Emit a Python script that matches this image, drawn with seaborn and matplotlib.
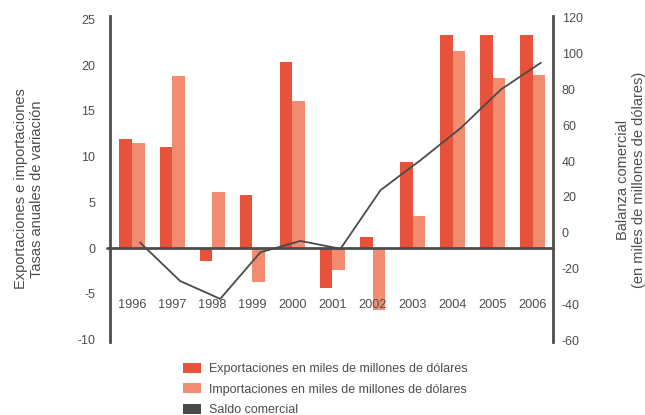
import numpy as np
import pandas as pd
import matplotlib
matplotlib.use("Agg")
import matplotlib.pyplot as plt
from matplotlib.patches import Patch
import seaborn as sns

# Annual data
years = ["1996", "1997", "1998", "1999", "2000", "2001", "2002", "2003", "2004", "2005", "2006"]
exportaciones = [11.9, 11.1, -1.4, 5.8, 20.3, -4.4, 1.2, 9.4, 23.3, 23.3, 23.3]
importaciones = [11.5, 18.8, 6.1, -3.7, 16.1, -2.4, -6.8, 3.5, 21.5, 18.6, 18.9]
saldo = [-5.5, -27.0, -37.0, -11.0, -4.6, -9.0, 23.8, 40.6, 58.5, 80.0, 95.0]

lbl_exp = "Exportaciones en miles de millones de dólares"
lbl_imp = "Importaciones en miles de millones de dólares"
lbl_saldo = "Saldo comercial"

c_exp = "#E8513A"
c_imp = "#F28C70"
c_line = "#4a4a4a"
c_axis = "#4d4d4d"
c_text = "#4d4d4d"

sns.set_theme(style="white")
plt.rcParams["font.family"] = ["Liberation Sans", "DejaVu Sans"]
plt.rcParams["axes.unicode_minus"] = False
plt.rcParams["text.color"] = c_text
plt.rcParams["axes.labelcolor"] = c_text
plt.rcParams["xtick.color"] = c_text
plt.rcParams["ytick.color"] = c_text

df = pd.DataFrame({
    "year": years * 2,
    "value": exportaciones + importaciones,
    "serie": [lbl_exp] * len(years) + [lbl_imp] * len(years),
})

fig = plt.figure(figsize=(6.45, 4.15), dpi=100)
ax = fig.add_axes([0.1705, 0.1759, 0.6868, 0.7855])

sns.barplot(data=df, x="year", y="value", hue="serie", order=years,
            hue_order=[lbl_exp, lbl_imp], palette=[c_exp, c_imp],
            width=0.625, saturation=1, linewidth=0, legend=False, ax=ax)

ax.set_xlim(-0.55, 10.5)
ax.set_ylim(-10.25, 25.35)
ax.set_xticks([])
ax.set_yticks([-10, -5, 0, 5, 10, 15, 20, 25])
ax.tick_params(axis="y", length=0, pad=10.5, labelsize=9)
ax.set_xlabel("")
ax.set_ylabel("")
for s in ["top", "bottom", "right"]:
    ax.spines[s].set_visible(False)
ax.spines["left"].set_color(c_axis)
ax.spines["left"].set_linewidth(2.0)

# zero baseline
ax.axhline(0, xmin=-0.007, xmax=1.0, color=c_axis, lw=2.0, clip_on=False, zorder=3)

# year labels inside the plot area
for i, y in enumerate(years):
    ax.text(i, -6.22, y, ha="center", va="center", fontsize=9.2, color=c_text)

# trade balance on the secondary axis
ax2 = ax.twinx()
xpos = np.arange(len(years)) + 0.2
sns.lineplot(x=xpos, y=saldo, color=c_line, lw=1.3, ax=ax2)
ax2.set_ylim(-61.1, 121.1)
ax2.set_yticks([-60, -40, -20, 0, 20, 40, 60, 80, 100, 120])
ax2.tick_params(axis="y", length=0, pad=6.5, labelsize=9)
ax2.set_xlim(-0.55, 10.5)
ax2.set_xticks([])
ax2.set_ylabel("")
for s in ["top", "bottom", "left"]:
    ax2.spines[s].set_visible(False)
ax2.spines["right"].set_color(c_axis)
ax2.spines["right"].set_linewidth(2.0)

# axis titles
fig.text(29 / 645, 1 - 189 / 415, "Exportaciones e importaciones\nTasas anuales de variación",
         rotation=90, ha="center", va="center", fontsize=10.5, color=c_text, linespacing=1.1)
fig.text(631 / 645, 1 - 180 / 415, "Balanza comercial\n(en miles de millones de dólares)",
         rotation=90, ha="center", va="center", fontsize=10.5, color=c_text, linespacing=1.1)

handles = [Patch(facecolor=c_exp, edgecolor="none", label=lbl_exp),
           Patch(facecolor=c_imp, edgecolor="none", label=lbl_imp),
           Patch(facecolor=c_line, edgecolor="none", label=lbl_saldo)]
fig.legend(handles=handles, loc="upper left", bbox_to_anchor=(183 / 645, 1 - 363 / 415),
           frameon=False, fontsize=9, handlelength=1.4, handleheight=0.85,
           handletextpad=0.7, labelspacing=0.65, borderpad=0, borderaxespad=0)

fig.savefig("out.png", dpi=100)
